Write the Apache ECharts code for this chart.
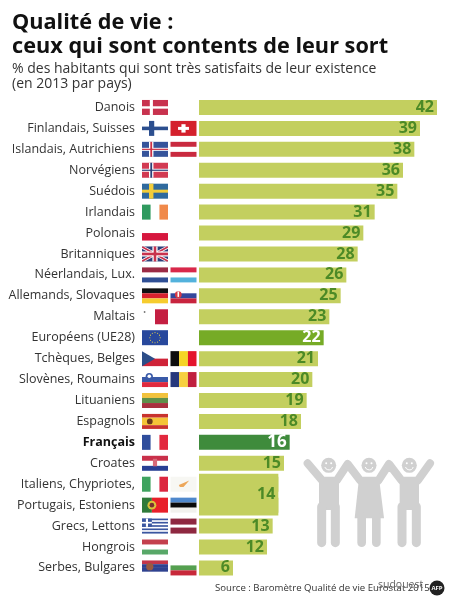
<!DOCTYPE html>
<html><head><meta charset="utf-8">
<style>html,body{margin:0;padding:0;background:#fff}#c{width:450px;height:600px}</style>
<script src="https://cdn.jsdelivr.net/npm/echarts@6/dist/echarts.min.js"></script>
</head><body><div id="c"></div>
<script>
const categories = ['Danois','Finlandais, Suisses','Islandais, Autrichiens','Norvégiens','Suédois','Irlandais','Polonais','Britanniques','Néerlandais, Lux.','Allemands, Slovaques','Maltais','Européens (UE28)','Tchèques, Belges','Slovènes, Roumains','Lituaniens','Espagnols','Français','Croates','Italiens, Chypriotes,','Portugais, Estoniens','Grecs, Lettons','Hongrois','Serbes, Bulgares'];
const values = [42,39,38,36,35,31,29,28,26,25,23,22,21,20,19,18,16,15,14,14,13,12,6];
const flagsByRow = [['dk'],['fi','ch'],['is','at'],['no'],['se'],['ie'],['pl'],['gb'],['nl','lu'],['de','sk'],['mt'],['eu'],['cz','be'],['si','ro'],['lt'],['es'],['fr'],['hr'],['it','cy'],['pt','ee'],['gr','lv'],['hu'],['rs','bg']];
const sharedRows = ['Italiens, Chypriotes,','Portugais, Estoniens'];
const titleLines = 'Qualité de vie :\nceux qui sont contents de leur sort';
const subtitleLines = '% des habitants qui sont très satisfaits de leur existence\n(en 2013 par pays)';
const sourceText = 'Source : Baromètre Qualité de vie Eurostat 2015 ·';
const FONT = '"Open Sans","Noto Sans",sans-serif';
const BAR='#c3cf5f', GREEN='#4c8a26', EU='#76ab26', FR='#3f8b3c';

const R=(x,y,w,h,c)=>({t:'r',x,y,w,h,c});
const C=(x,y,r,c)=>({t:'c',x,y,r,c});
const P=(pts,c)=>({t:'p',pts,c});
const cross=(bg,c1,c2)=>{const o=[R(0,0,1,1,bg),R(.27,0,.17,1,c1),R(0,.4,1,.2,c1)];if(c2)o.push(R(.32,0,.07,1,c2),R(0,.46,1,.08,c2));return o;};
const flagW='#ffffff';
const euStars=[];for(let i=0;i<12;i++){const a=i*Math.PI/6;euStars.push(C(.5+.2*Math.cos(a),.5+.34*Math.sin(a),.022,'#e8d34a'));}
const FLAGS={
 dk:[R(0,0,1,1,'#c8324e'),R(.3,0,.12,1,flagW),R(0,.42,1,.16,flagW)],
 fi:[R(.27,0,.2,1,'#2c4f8f'),R(0,.38,1,.24,'#2c4f8f')],
 ch:[R(0,0,1,1,'#d4202c'),R(.42,.22,.16,.56,flagW),R(.29,.4,.42,.2,flagW)],
 is:cross('#35549b',flagW,'#cc2f45'),
 at:[R(0,0,1,.33,'#c92a3f'),R(0,.67,1,.33,'#c92a3f')],
 no:cross('#d23a52',flagW,'#2c3f78'),
 se:cross('#2f6a9e','#f2cd3a'),
 ie:[R(0,0,.33,1,'#2f9a5f'),R(.67,0,.33,1,'#f0894a')],
 pl:[R(0,.5,1,.5,'#d6173e')],
 gb:[R(0,0,1,1,'#2d3f7a'),P([[0,0],[.1,0],[1,.85],[1,1],[.9,1],[0,.15]],flagW),P([[1,0],[.9,0],[0,.85],[0,1],[.1,1],[1,.15]],flagW),P([[0,0],[.05,0],[1,.92],[1,1],[.95,1],[0,.08]],'#c8324e'),P([[1,0],[.95,0],[0,.92],[0,1],[.05,1],[1,.08]],'#c8324e'),R(.4,0,.2,1,flagW),R(0,.33,1,.34,flagW),R(.45,0,.1,1,'#c8324e'),R(0,.41,1,.18,'#c8324e')],
 nl:[R(0,0,1,.33,'#9a2a45'),R(0,.67,1,.33,'#2f4f95')],
 lu:[R(0,0,1,.33,'#d8284a'),R(0,.67,1,.33,'#53b2dc')],
 de:[R(0,0,1,.33,'#111111'),R(0,.33,1,.34,'#d8222e'),R(0,.67,1,.33,'#f6cc2e')],
 sk:[R(0,.33,1,.34,'#33479c'),R(0,.67,1,.33,'#c8243e'),C(.3,.42,.13,'#d83a45'),R(.27,.22,.06,.35,flagW)],
 mt:[R(.5,0,.5,1,'#c41f42'),C(.1,.18,.035,'#777777')],
 eu:[R(0,0,1,1,'#28489c')].concat(euStars),
 cz:[R(0,.5,1,.5,'#cf2338'),P([[0,0],[.5,.5],[0,1]],'#2c4d88')],
 be:[R(0,0,.33,1,'#0d0d0d'),R(.33,0,.34,1,'#f5d425'),R(.67,0,.33,1,'#e4142c')],
 si:[R(0,.33,1,.34,'#3a5aa8'),R(0,.67,1,.33,'#e02a3e'),C(.28,.3,.14,'#3a5aa8'),C(.28,.28,.07,flagW)],
 ro:[R(0,0,.33,1,'#26387c'),R(.33,0,.34,1,'#f7d040'),R(.67,0,.33,1,'#c0203e')],
 lt:[R(0,0,1,.33,'#f2c23c'),R(0,.33,1,.34,'#5e8f4a'),R(0,.67,1,.33,'#a8303e')],
 es:[R(0,0,1,.25,'#c8322e'),R(0,.25,1,.5,'#f4c438'),R(0,.75,1,.25,'#c8322e'),C(.3,.5,.11,'#6a3a1c')],
 fr:[R(0,0,.33,1,'#2f4d9c'),R(.67,0,.33,1,'#e2283e')],
 hr:[R(0,0,1,.33,'#c9304a'),R(0,.67,1,.33,'#283f94'),R(.42,.2,.16,.5,'#d86a78')],
 it:[R(0,0,.33,1,'#3fa35f'),R(.67,0,.33,1,'#dc2740')],
 cy:[R(0,0,1,1,'#f7f7f3'),P([[.32,.55],[.5,.42],[.72,.25],[.62,.45],[.5,.68],[.36,.68]],'#eda75a')],
 pt:[R(0,0,.38,1,'#2f7a3a'),R(.38,0,.62,1,'#e8202a'),C(.38,.5,.17,'#d8c23a'),C(.38,.5,.09,'#7a3030')],
 ee:[R(0,0,1,.33,'#4f88cc'),R(0,.33,1,.34,'#0a0a0a'),R(0,.67,1,.33,'#f2f2ee')],
 gr:[R(0,.0,1,.11,'#3a56a0'),R(0,.22,1,.11,'#3a56a0'),R(0,.44,1,.11,'#3a56a0'),R(0,.66,1,.11,'#3a56a0'),R(0,.88,1,.12,'#3a56a0'),R(0,0,.38,.55,'#3a56a0'),R(.15,0,.08,.55,flagW),R(0,.22,.38,.11,flagW)],
 lv:[R(0,0,1,.4,'#8e2840'),R(0,.6,1,.4,'#8e2840')],
 hu:[R(0,0,1,.33,'#c4404e'),R(0,.67,1,.33,'#58a868')],
 rs:[R(0,0,1,.25,'#c4364a'),R(0,.25,1,.25,'#2f4290'),R(0,.5,1,.25,'#2f4290'),C(.3,.42,.14,'#9a5a40')],
 bg:[R(0,.33,1,.33,'#55a050'),R(0,.66,1,.34,'#c8283a')]
};
const FW=26, FH=15, FGAP=28.5, FOFF=57;
function renderFlags(params, api){
  const row=api.value(1), o=api.coord([0,row]), kids=[];
  flagsByRow[row].forEach((k,i)=>{
    const x0=o[0]-FOFF+i*FGAP, y0=o[1]-FH/2;
    FLAGS[k].forEach(s=>{
      if(s.t==='r') kids.push({type:'rect',shape:{x:x0+s.x*FW,y:y0+s.y*FH,width:s.w*FW,height:s.h*FH},style:{fill:s.c}});
      else if(s.t==='c') kids.push({type:'circle',shape:{cx:x0+s.x*FW,cy:y0+s.y*FH,r:s.r*FW},style:{fill:s.c}});
      else kids.push({type:'polygon',shape:{points:s.pts.map(p=>[x0+p[0]*FW,y0+p[1]*FH])},style:{fill:s.c}});
    });
  });
  return {type:'group',children:kids};
}
// icon of the three people
const px=(x,y)=>[295+x/3,450+y/3];
const GREY='#d0d0d0';
const limb=(pts,w)=>({type:'polyline',shape:{points:pts.map(p=>px(p[0],p[1]))},style:{stroke:GREY,lineWidth:w/3,lineCap:'round',lineJoin:'round',fill:null}});
const poly=(pts)=>({type:'polygon',shape:{points:pts.map(p=>px(p[0],p[1]))},style:{fill:GREY}});
const head=(cx)=>{const c=px(cx,46);return [
 {type:'circle',shape:{cx:c[0],cy:c[1],r:7.5},style:{fill:GREY}},
 {type:'circle',shape:{cx:c[0]-2.5,cy:c[1]-2,r:1},style:{fill:'#fff'}},
 {type:'circle',shape:{cx:c[0]+2.5,cy:c[1]-2,r:1},style:{fill:'#fff'}},
 {type:'arc',shape:{cx:c[0],cy:c[1]+.5,r:4,startAngle:.3,endAngle:Math.PI-.3},style:{stroke:'#fff',lineWidth:1,fill:null}}
];};
const icon=[
 limb([[38,40],[82,92],[125,92],[158,42],[196,92],[250,92],[282,42],[320,92],[368,92],[405,40]],24),
 poly([[72,85],[132,85],[132,180],[72,180]]),
 limb([[80,170],[80,278]],27),limb([[121,170],[121,278]],27),
 poly([[192,85],[252,85],[267,205],[179,205]]),
 limb([[200,200],[200,278]],26),limb([[244,200],[244,278]],26),
 poly([[314,85],[372,85],[372,180],[314,180]]),
 limb([[321,170],[321,278]],27),limb([[364,170],[364,278]],27)
].concat(head(101),head(222),head(343));

const barData=values.map((v,i)=>{
  const n=categories[i], col=n==='Français'?FR:n.startsWith('Européens')?EU:BAR;
  const light=col!==BAR, hide=sharedRows.includes(n);
  return {value:v,itemStyle:{color:col},label:{show:!hide,color:light?'#fff':GREEN,fontSize:n==='Français'?17:16}};
});
const chart=echarts.init(document.getElementById('c'),null,{renderer:'canvas'});
chart.setOption({
  animation:false,backgroundColor:'#fff',
  title:[
   {text:titleLines,left:12,top:11,padding:0,textStyle:{fontFamily:FONT,fontSize:21.7,fontWeight:'bold',color:'#111',lineHeight:24}},
   {text:subtitleLines,left:12,top:61,padding:0,textStyle:{fontFamily:FONT,fontSize:14,fontWeight:'normal',color:'#333',lineHeight:15.5}},
   {text:sourceText,left:215,top:583,padding:0,textStyle:{fontFamily:FONT,fontSize:9.6,fontWeight:'normal',color:'#333'}},
   {text:'sudouest',left:378,top:580,padding:0,textStyle:{fontFamily:FONT,fontSize:10.5,fontWeight:'normal',color:'#666',letterSpacing:.5}}
  ],
  grid:{left:199,top:97,width:238,height:481.4,containLabel:false},
  xAxis:{type:'value',min:0,max:42,show:false},
  yAxis:{type:'category',inverse:true,data:categories,
    axisLine:{show:false},axisTick:{show:false},splitLine:{show:false},
    axisLabel:{margin:64,interval:0,fontFamily:FONT,fontSize:12.5,color:'#333',
      formatter:v=>v==='Français'?'{b|'+v+'}':v,
      rich:{b:{fontFamily:FONT,fontSize:12.5,fontWeight:'bold',color:'#111'}}}},
  graphic:{elements:icon.concat([
    {type:'circle',shape:{cx:437,cy:588,r:7.5},style:{fill:'#222'}},
    {type:'text',style:{x:437,y:588,text:'AFP',fill:'#fff',fontSize:6,fontWeight:'bold',align:'center',verticalAlign:'middle',fontFamily:FONT}}
  ])},
  series:[
   {type:'bar',data:barData,barWidth:15,
    label:{show:true,position:'insideRight',distance:3,fontFamily:FONT,fontWeight:'bold'},
    markArea:{silent:true,z:5,itemStyle:{color:BAR},
      label:{show:true,position:'insideRight',distance:3,color:GREEN,fontFamily:FONT,fontWeight:'bold',fontSize:16,formatter:String(values[categories.indexOf(sharedRows[0])])},
      data:[[{xAxis:0,yAxis:sharedRows[0]},{xAxis:values[categories.indexOf(sharedRows[0])],yAxis:sharedRows[1]}]]}},
   {type:'custom',renderItem:renderFlags,silent:true,clip:false,data:categories.map((c,i)=>[0,i]),encode:{x:0,y:1}}
  ]
});
</script></body></html>
